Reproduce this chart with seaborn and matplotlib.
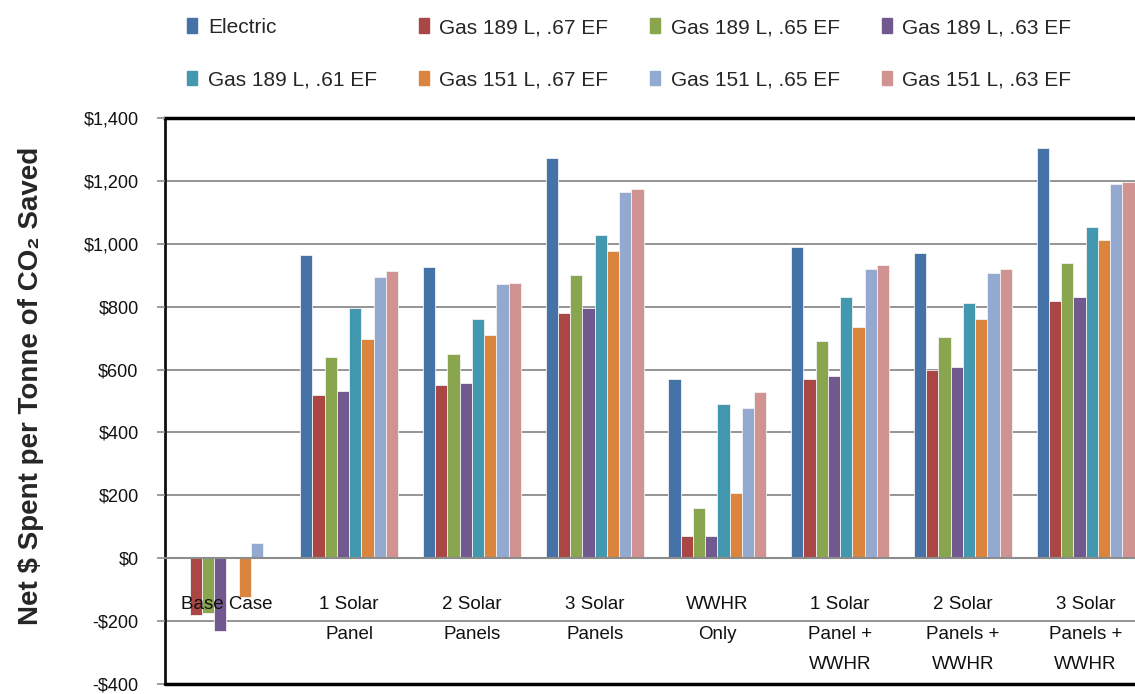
import pandas as pd
import matplotlib
matplotlib.use('Agg')
import matplotlib.pyplot as plt
import matplotlib.ticker as mticker
import seaborn as sns

# data
scenarios = ['Base Case', '1 Solar\nPanel', '2 Solar\nPanels', '3 Solar\nPanels', 'WWHR\nOnly',
             '1 Solar\nPanel +\nWWHR', '2 Solar\nPanels +\nWWHR', '3 Solar\nPanels +\nWWHR']
series = ['Electric', 'Gas 189 L, .67 EF', 'Gas 189 L, .65 EF', 'Gas 189 L, .63 EF',
          'Gas 189 L, .61 EF', 'Gas 151 L, .67 EF', 'Gas 151 L, .65 EF', 'Gas 151 L, .63 EF']

electric = [0, 964, 927, 1272, 569, 990, 971, 1304]
gas189_67 = [-181, 519, 550, 781, 71, 569, 600, 819]
gas189_65 = [-175, 639, 651, 901, 161, 690, 703, 940]
gas189_63 = [-232, 531, 556, 796, 71, 581, 609, 831]
gas189_61 = [0, 797, 760, 1029, 492, 830, 812, 1054]
gas151_67 = [-124, 697, 710, 978, 206, 735, 761, 1011]
gas151_65 = [48, 895, 871, 1164, 479, 920, 908, 1189]
gas151_63 = [0, 914, 876, 1175, 530, 933, 920, 1195]

colors = ['#4572A7', '#AA4643', '#89A54E', '#71588F', '#4198AF', '#DB843D', '#93A9CF', '#D19392']

values = [electric, gas189_67, gas189_65, gas189_63, gas189_61, gas151_67, gas151_65, gas151_63]
rows = []
for name, vals in zip(series, values):
    for sc, v in zip(scenarios, vals):
        rows.append({'scenario': sc, 'series': name, 'value': v})
df = pd.DataFrame(rows)

sns.set_style('white')
plt.rcParams['font.family'] = ['Liberation Sans', 'DejaVu Sans']

fig = plt.figure(figsize=(11.35, 6.94), dpi=100)
ax = fig.add_axes([165 / 1135, 10 / 694, (1147 - 165) / 1135, 566 / 694])

sns.barplot(data=df, x='scenario', y='value', hue='series', order=scenarios, hue_order=series,
            palette=colors, saturation=1, width=0.8, edgecolor='#f2f2f2', linewidth=0.6,
            errorbar=None, ax=ax, zorder=1)

ax.set_ylim(-400, 1400)
ax.set_xlim(-0.5, len(scenarios) - 0.5)
ax.yaxis.set_major_locator(mticker.MultipleLocator(200))
ax.yaxis.set_major_formatter(mticker.FuncFormatter(
    lambda v, p: ('-$' if v < 0 else '$') + f'{abs(v):,.0f}'))

# gridlines behind the bars, axis labels in front of them
ax.grid(False)
for t in range(-200, 1400, 200):
    ax.axhline(t, color='#8c8c8c', lw=1.3, zorder=0.5)
ax.set_axisbelow(False)

# category axis sits at zero
ax.spines['bottom'].set_position(('data', 0))
ax.spines['bottom'].set_color('#8c8c8c')
ax.spines['bottom'].set_linewidth(1.5)
ax.set_xticks(range(len(scenarios)))
ax.set_xticks([i + 0.5 for i in range(len(scenarios) - 1)], minor=True)
ax.tick_params(axis='x', which='major', length=0, pad=27, labelsize=13.5, labelcolor='#111111')
ax.tick_params(axis='x', which='minor', length=7, width=1.2, color='#8c8c8c', direction='out')
for lbl in ax.get_xticklabels():
    lbl.set_linespacing(2.0)
ax.set_xlabel('')

ax.tick_params(axis='y', length=6, width=1.2, color='#8c8c8c', direction='out',
               left=True, labelsize=13, labelcolor='#111111', pad=13)
ax.spines['left'].set_color('#111111')
ax.spines['left'].set_linewidth(2)
ax.spines['top'].set_color('black')
ax.spines['top'].set_linewidth(2.5)
ax.spines['right'].set_visible(False)
ax.axhline(-400, color='black', lw=2.5, clip_on=False, zorder=5)

ax.set_ylabel('')
fig.text(31 / 1135, 1 - 386 / 694, 'Net $ Spent per Tonne of CO₂ Saved', rotation=90,
         ha='center', va='center', fontsize=20, fontweight='bold')

# legend filled row by row, 4 columns
ax.get_legend().remove()
handles = [plt.Rectangle((0, 0), 1, 1, color=c) for c in colors]
order = [0, 4, 1, 5, 2, 6, 3, 7]
fig.legend([handles[i] for i in order], [series[i] for i in order], loc='upper left',
           bbox_to_anchor=(187 / 1135, 1 - 18 / 694), ncol=4, frameon=False, fontsize=15,
           handlelength=0.5, handleheight=0.7, handletextpad=0.5, columnspacing=2.0,
           labelspacing=1.6, borderpad=0, borderaxespad=0)

fig.savefig('out.png', dpi=100)
